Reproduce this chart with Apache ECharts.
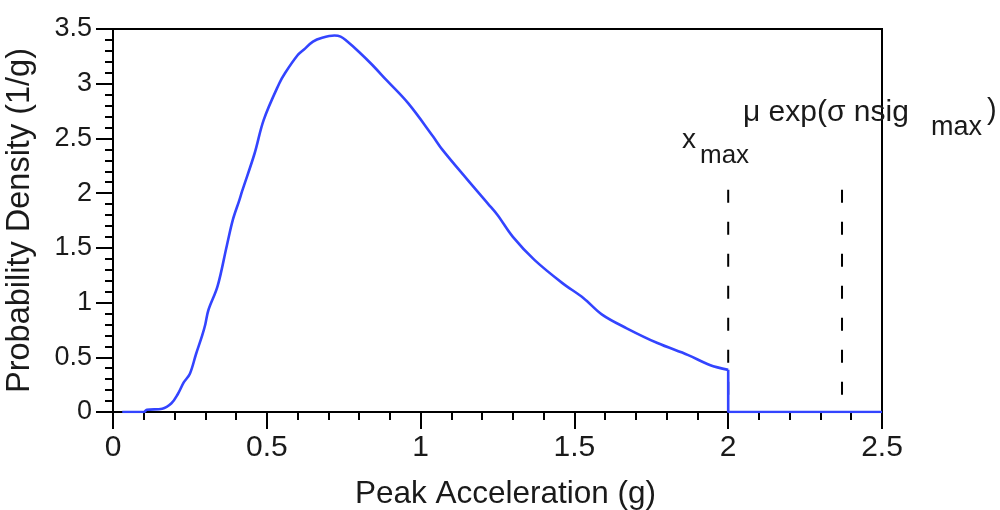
<!DOCTYPE html>
<html>
<head>
<meta charset="utf-8">
<script src="https://cdn.jsdelivr.net/npm/echarts@6/dist/echarts.min.js"></script>
<style>
html,body{margin:0;padding:0;background:#fff;}
#main{width:1000px;height:510px;}
</style>
</head>
<body>
<div id="main"></div>
<script>
// ---- data ----
var accel = [0.03,0.10,0.11,0.16,0.19,0.21,0.23,0.25,0.27,0.29,0.30,0.31,0.34,0.37,0.39,0.41,0.42,0.46,0.49,0.54,0.56,0.60,0.62,0.65,0.68,0.72,0.74,0.76,0.80,0.84,0.89,0.96,1.04,1.07,1.15,1.22,1.25,1.30,1.37,1.46,1.53,1.59,1.67,1.77,1.87,1.94,2.00,2.00,2.50];
var density = [0,0,0.02,0.03,0.08,0.16,0.27,0.35,0.53,0.70,0.80,0.93,1.15,1.52,1.76,1.93,2.02,2.36,2.67,3.00,3.10,3.26,3.31,3.385,3.42,3.44,3.43,3.39,3.29,3.18,3.03,2.82,2.52,2.40,2.13,1.90,1.80,1.60,1.39,1.18,1.04,0.89,0.765,0.63,0.52,0.43,0.385,0,0];
var xMaxValue = 2.0;          // x_max
var muExpValue = 2.37;        // mu exp(sigma nsig_max)
var markerTop = 2.03;
var xTickLabels = ['0','0.5','1','1.5','2','2.5'];
var yTickLabels = ['0','0.5','1','1.5','2','2.5','3','3.5'];

var pts = accel.map(function(x,i){return [x, density[i]];});
// smooth body up to x_max, straight step and flat tail afterwards
var cut = 46;
var body = pts.slice(0, cut + 1);
var tail = pts.slice(cut);

var font = 'Liberation Sans, Arial, Helvetica, sans-serif';
var txt = '#1a1a1a';
var blue = '#3344ff';

var chart = echarts.init(document.getElementById('main'), null, {renderer:'canvas'});
chart.setOption({
  animation:false,
  backgroundColor:'#fff',
  grid:{left:113,right:118,top:29,bottom:98,containLabel:false,outerBoundsMode:'none',
        show:true,borderColor:'#000',borderWidth:2,backgroundColor:'transparent'},
  xAxis:{
    type:'value',min:0,max:2.5,interval:0.5,
    axisLine:{lineStyle:{color:'#000',width:2}},
    axisTick:{show:true,inside:false,length:17,lineStyle:{color:'#000',width:2}},
    minorTick:{show:true,splitNumber:5,length:8,lineStyle:{color:'#000',width:2}},
    splitLine:{show:false},
    axisLabel:{fontSize:30,fontFamily:font,color:txt,margin:21,
      formatter:function(v){return xTickLabels[Math.round(v/0.5)];}},
    name:'Peak Acceleration (g)',nameLocation:'middle',nameGap:66,
    nameTextStyle:{fontSize:31.5,fontFamily:font,color:txt,padding:[0,0,0,16]}
  },
  yAxis:{
    type:'value',min:0,max:3.5,interval:0.5,
    axisLine:{lineStyle:{color:'#000',width:2}},
    axisTick:{show:true,inside:false,length:17,lineStyle:{color:'#000',width:2}},
    minorTick:{show:true,splitNumber:5,length:8,lineStyle:{color:'#000',width:2}},
    splitLine:{show:false},
    axisLabel:{fontSize:27,fontFamily:font,color:txt,margin:21,
      formatter:function(v){return yTickLabels[Math.round(v/0.5)];}},
    name:'Probability Density (1/g)',nameLocation:'middle',nameGap:76,
    nameTextStyle:{fontSize:32.5,fontFamily:font,color:txt}
  },
  series:[
    {type:'line',data:[[xMaxValue,markerTop],[xMaxValue,0]],symbol:'none',silent:true,z:1,
     lineStyle:{color:'#000',width:2,type:[13,19]}},
    {type:'line',data:[[muExpValue,markerTop],[muExpValue,0]],symbol:'none',silent:true,z:1,
     lineStyle:{color:'#000',width:2,type:[13,19]}},
    {type:'line',data:body,symbol:'none',silent:true,z:3,smooth:0.35,
     lineStyle:{color:blue,width:2.6}},
    {type:'line',data:tail,symbol:'none',silent:true,z:3,
     lineStyle:{color:blue,width:2.6}}
  ],
  graphic:[
    {type:'text',left:682,top:126,style:{text:'x',fontSize:28,fontFamily:font,fill:txt}},
    {type:'text',left:700,top:143,style:{text:'max',fontSize:26,fontFamily:font,fill:txt}},
    {type:'text',left:743,top:98,style:{text:'\u03bc exp(\u03c3 nsig',fontSize:30,fontFamily:font,fill:txt}},
    {type:'text',left:931,top:114,style:{text:'max',fontSize:27,fontFamily:font,fill:txt}},
    {type:'text',left:987,top:96,style:{text:')',fontSize:29,fontFamily:font,fill:txt}}
  ]
});
</script>
</body>
</html>
